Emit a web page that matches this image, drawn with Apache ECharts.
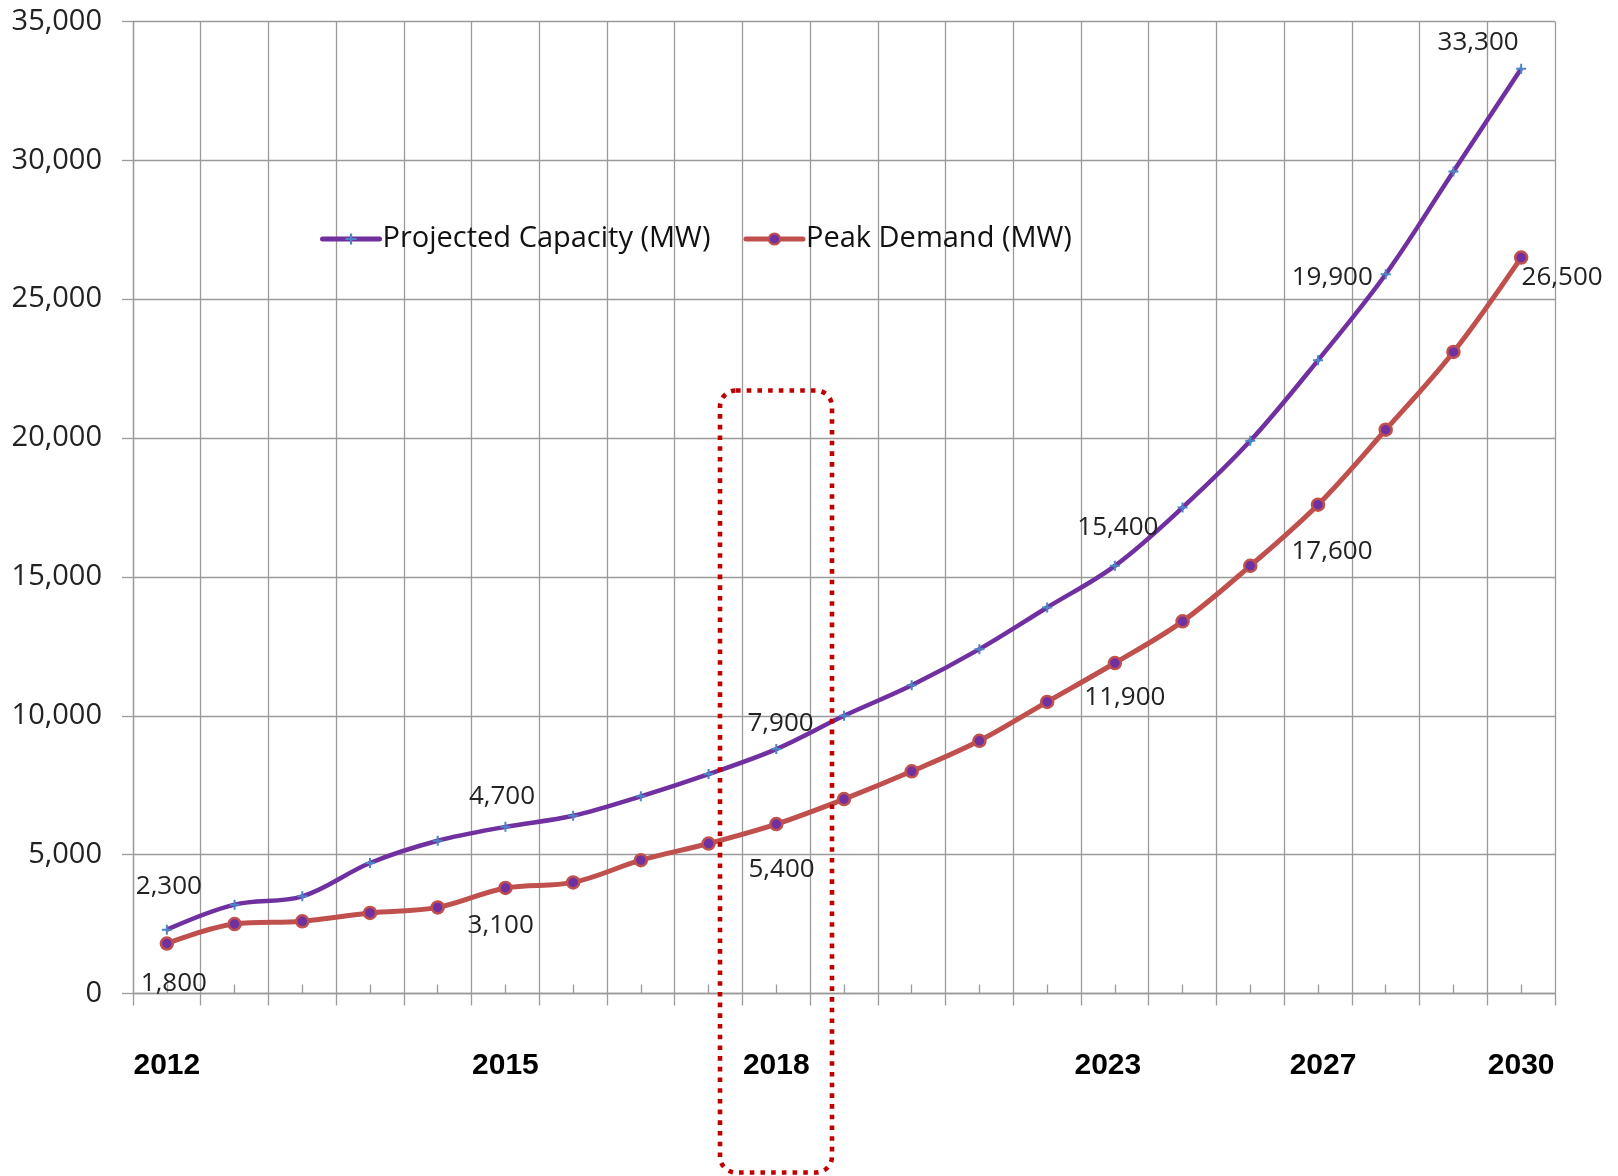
<!DOCTYPE html>
<html>
<head>
<meta charset="utf-8">
<script src="https://cdn.jsdelivr.net/npm/echarts@6/dist/echarts.min.js"></script>
<style>
  html, body { margin: 0; padding: 0; background: #ffffff; }
  #chart { width: 1618px; height: 1176px; }
</style>
</head>
<body>
<div id="chart"></div>
<script>
// ---- data ----
var tickLabels = ['2012','','','','','2015','','','','2018','','','','','2023','','','2027','','','2030'];
var capacityName = 'Projected Capacity (MW)';
var demandName = 'Peak Demand (MW)';
var capacity = [2300,3200,3500,4700,5500,6000,6400,7100,7900,8800,10000,11100,12400,13900,15400,17500,19900,22800,25900,29600,33300];
var demand   = [1800,2500,2600,2900,3100,3800,4000,4800,5400,6100,7000,8000,9100,10500,11900,13400,15400,17600,20300,23100,26500];
var yTicks = { min: 0, max: 35000, interval: 5000 };
// annotated points: index of the point whose value is written
var capacityNotes = [0, 3, 8, 14, 16, 20];
var demandNotes   = [0, 4, 8, 14, 17, 20];

// ---- label offsets (pixels, style only) ----
var capacityOffsets = { 0: [2, -43], 3: [132, -66], 8: [72, -51], 14: [3, -38], 16: [82, -163], 20: [-43, -26] };
var demandOffsets   = { 0: [7, 40], 4: [63, 18], 8: [73, 26], 14: [10, 35], 17: [14, 47], 20: [41, 20] };
var tickLabelPadding = { 14: [0, 14, 0, 0], 17: [0, 0, 0, 10] };

function fmt(v) { return v.toLocaleString('en-US'); }

function notes(arr, idxs, offsets) {
  return idxs.map(function (i) {
    return {
      coord: [i, arr[i]],
      value: arr[i],
      label: { offset: offsets[i] }
    };
  });
}

var xData = tickLabels.map(function (t, i) {
  return tickLabelPadding[i] ? { value: t, textStyle: { padding: tickLabelPadding[i] } } : t;
});

var noteLabel = {
  show: true,
  position: 'inside',
  formatter: function (p) { return fmt(p.value); },
  fontFamily: 'Open Sans',
  fontSize: 26,
  color: '#222'
};

var gridColor = '#9a9a9a';
var chart = echarts.init(document.getElementById('chart'), null, { renderer: 'canvas' });

var option = {
  backgroundColor: '#ffffff',
  animation: false,
  grid: { left: 133, right: 63, top: 21.5, bottom: 182.5, containLabel: false },
  legend: {
    left: 320,
    top: 224,
    padding: 0,
    itemWidth: 57,
    itemHeight: 14,
    itemGap: 33,
    lineStyle: { width: 5, cap: 'round' },
    textStyle: { fontFamily: 'Open Sans', fontSize: 29, color: '#111', lineHeight: 30, padding: [0, 0, 0, -2] },
    data: [capacityName, demandName]
  },
  xAxis: [{
    type: 'category',
    position: 'bottom',
    data: xData,
    boundaryGap: true,
    axisLine: { show: true, lineStyle: { color: gridColor, width: 1.3 } },
    axisTick: { show: true, length: 12, lineStyle: { color: gridColor, width: 1.3 } },
    splitLine: { show: true, lineStyle: { color: gridColor, width: 1.3 } },
    axisLabel: {
      interval: 0,
      margin: 57,
      fontFamily: 'Liberation Sans',
      fontWeight: 'bold',
      fontSize: 30,
      color: '#000'
    }
  }, {
    type: 'category',
    position: 'bottom',
    data: tickLabels,
    boundaryGap: true,
    axisLine: { show: false },
    axisTick: { show: true, alignWithLabel: true, inside: true, interval: 0, length: 9, lineStyle: { color: gridColor, width: 1.3 } },
    splitLine: { show: false },
    axisLabel: { show: false }
  }],
  yAxis: {
    type: 'value',
    min: yTicks.min,
    max: yTicks.max,
    interval: yTicks.interval,
    axisLine: { show: true, lineStyle: { color: gridColor, width: 1.3 } },
    axisTick: { show: true, length: 11, lineStyle: { color: gridColor, width: 1.3 } },
    splitLine: { show: true, lineStyle: { color: gridColor, width: 1.3 } },
    axisLabel: {
      margin: 31,
      fontFamily: 'Open Sans',
      fontSize: 29,
      color: '#222',
      formatter: function (v) { return fmt(v); }
    }
  },
  series: [{
    name: capacityName,
    type: 'line',
    data: capacity,
    smooth: 0.35,
    symbol: 'path://M4,0h2v4h4v2h-4v4h-2v-4h-4v-2h4z',
    symbolSize: 10,
    showAllSymbol: true,
    itemStyle: { color: '#4a86c8' },
    lineStyle: { color: '#7030A0', width: 4.5 },
    z: 3,
    markPoint: {
      symbol: 'circle',
      symbolSize: 1,
      itemStyle: { color: 'rgba(0,0,0,0)' },
      silent: true,
      label: noteLabel,
      data: notes(capacity, capacityNotes, capacityOffsets)
    }
  }, {
    name: demandName,
    type: 'line',
    data: demand,
    smooth: 0.35,
    symbol: 'circle',
    symbolSize: 12,
    showAllSymbol: true,
    itemStyle: { color: '#7030A0', borderColor: '#C0504D', borderWidth: 2.5 },
    lineStyle: { color: '#C0504D', width: 5 },
    z: 3,
    markPoint: {
      symbol: 'circle',
      symbolSize: 1,
      itemStyle: { color: 'rgba(0,0,0,0)' },
      silent: true,
      label: noteLabel,
      data: notes(demand, demandNotes, demandOffsets)
    }
  }],
  graphic: [{
    type: 'rect',
    z: 100,
    silent: true,
    shape: { x: 720, y: 390.5, width: 112, height: 782, r: 16 },
    style: { fill: 'none', stroke: '#C00000', lineWidth: 4.6, lineDash: [4.6, 6.1] }
  }]
};

chart.setOption(option);
</script>
</body>
</html>
